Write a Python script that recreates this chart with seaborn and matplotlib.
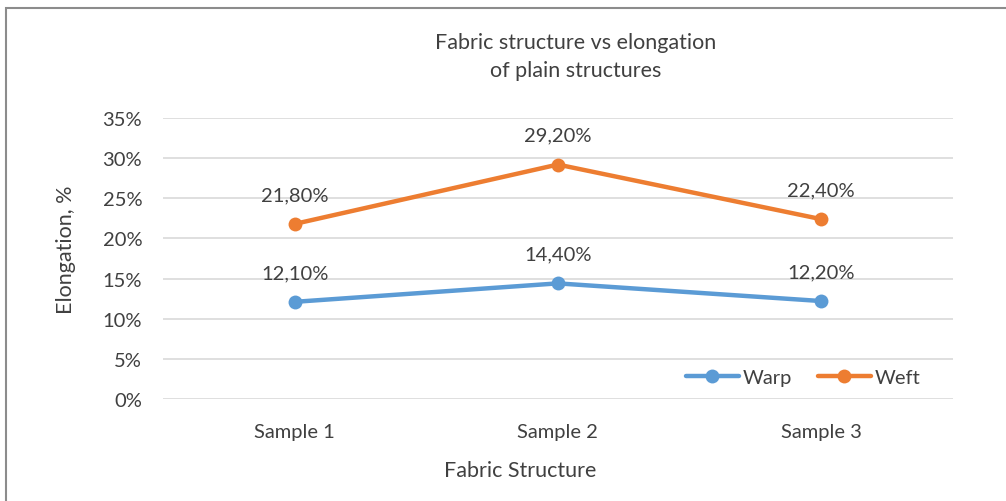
import pandas as pd
import numpy as np
import matplotlib
matplotlib.use("Agg")
import matplotlib.pyplot as plt
import seaborn as sns
from matplotlib.patches import Rectangle

samples = ["Sample 1", "Sample 2", "Sample 3"]
warp = [0.121, 0.144, 0.122]
weft = [0.218, 0.292, 0.224]
series_names = ["Warp", "Weft"]
y_ticks = [0, 0.05, 0.10, 0.15, 0.20, 0.25, 0.30, 0.35]

df = pd.DataFrame({
    "Sample": samples * 2,
    "Elongation": warp + weft,
    "Series": [series_names[0]] * 3 + [series_names[1]] * 3,
})

sns.set_theme(style="white")
plt.rcParams['font.family'] = ['Lato', 'DejaVu Sans']
txt = "#404040"
fs = 14.5

fig = plt.figure(figsize=(10.06, 5.02), dpi=100)
ax = fig.add_axes([0.162, 0.2032, 0.785, 0.5598])

palette = {"Warp": "#5B9BD5", "Weft": "#ED7D31"}
sns.lineplot(data=df, x="Sample", y="Elongation", hue="Series", palette=palette,
             marker="o", markersize=10, markeredgewidth=0, linewidth=3.2,
             sort=False, ax=ax)

# data labels
for vals in (warp, weft):
    for i, v in enumerate(vals):
        ax.annotate(f"{v*100:.2f}%".replace(".", ","), (i, v), xytext=(0, 15),
                    textcoords="offset points", ha="center", va="bottom",
                    fontsize=fs, color=txt)

ax.set_xlim(-0.5, 2.5)
ax.set_ylim(0, 0.35)
ax.set_yticks(y_ticks)
ax.set_yticklabels([f"{int(round(t*100))}%" for t in y_ticks])
ax.grid(axis="y", color="#D9D9D9", linewidth=1.2)
ax.grid(axis="x", visible=False)
for s in ax.spines.values():
    s.set_visible(False)
ax.tick_params(axis="both", length=0, labelsize=fs, colors=txt)
ax.tick_params(axis="y", pad=15)
ax.tick_params(axis="x", pad=17)
ax.set_xlabel("")
ax.set_ylabel("")

leg = ax.legend(loc="lower right", bbox_to_anchor=(0.982, -0.02), ncol=2, frameon=False,
                fontsize=fs, handlelength=2.6, columnspacing=1.3, handletextpad=0.2)
for t in leg.get_texts():
    t.set_color(txt)

fig.text(576 / 1006, 1 - 57 / 502, "Fabric structure vs elongation\nof plain structures",
         ha="center", va="center", fontsize=15.5, color=txt, linespacing=1.55)
fig.text(520 / 1006, 1 - 471 / 502, "Fabric Structure", ha="center", va="center",
         fontsize=15.5, color=txt)
fig.text(66 / 1006, 1 - 250 / 502, "Elongation, %", ha="center", va="center",
         rotation=90, fontsize=15.5, color=txt)

fig.patches.append(Rectangle((5.5 / 1006, -0.1), 1.2, (1 - 8.5 / 502) + 0.1,
                             transform=fig.transFigure, fill=False,
                             edgecolor="#8c8c8c", linewidth=1.5))

fig.savefig("out.png", dpi=100)
